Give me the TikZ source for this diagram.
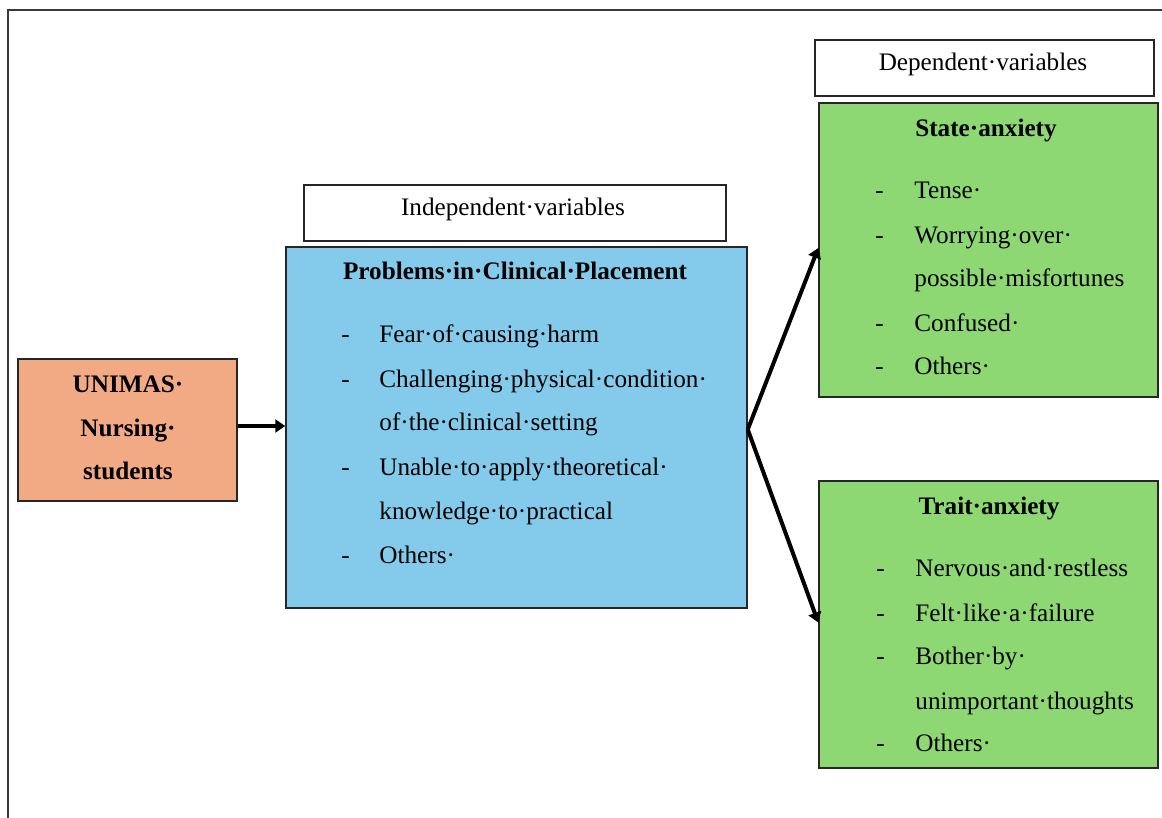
\documentclass[tikz,border=0pt]{standalone}
\usepackage{fontspec}
\setmainfont{Liberation Serif}
\usetikzlibrary{arrows.meta}
\definecolor{orangefill}{HTML}{F2AA84}
\definecolor{bluefill}{HTML}{83CAEB}
\definecolor{greenfill}{HTML}{8DD873}
\definecolor{framegray}{HTML}{3A3A3A}
\tikzset{
  box/.style={draw=black!85, line width=0.75pt, rectangle, inner sep=0pt},
  txt/.style={inner sep=0pt, anchor=base west, font=\fontsize{12.6}{22}\selectfont},
  ctxt/.style={inner sep=0pt, anchor=base, font=\fontsize{12.6}{22}\selectfont},
  btxt/.style={ctxt, font=\fontsize{12.6}{22}\selectfont\bfseries},
  arr/.style={line width=2pt, -{Triangle[length=5pt,width=6.5pt]}},
  framestyle/.style={draw=framegray, line width=1pt}
}
\begin{document}
\begin{tikzpicture}[x=0.5pt,y=-0.5pt]
\useasboundingbox (0,0) rectangle (1162,818);
\draw[framestyle] (8,818) -- (8,10) -- (1162,10);

% boxes
\node[box, minimum width=169.5pt, minimum height=28pt] (dep) at (984.5,68) {};
\node[box, fill=greenfill, minimum width=169.5pt, minimum height=147pt] (state) at (988.5,250) {};
\node[box, minimum width=211pt, minimum height=28pt] (indep) at (515,213) {};
\node[box, fill=bluefill, minimum width=230.5pt, minimum height=180.5pt] (prob) at (516.5,427.5) {};
\node[box, fill=orangefill, minimum width=109.5pt, minimum height=71pt] (unimas) at (127.5,430) {};
\node[box, fill=greenfill, minimum width=169.5pt, minimum height=143.5pt] (trait) at (988.5,624.5) {};

% headers
\node[ctxt] (deplbl) at (983,71) {Dependent·variables};
\node[ctxt] (indeplbl) at (513,216) {Independent·variables};

% unimas
\node[btxt] (u1) at (128,393) {UNIMAS·};
\node[btxt] (u2) at (128,436) {Nursing·};
\node[btxt] (u3) at (128,479) {students};

% problems
\node[btxt] (ptitle) at (515,280) {Problems·in·Clinical·Placement};
\node[txt] (pd1) at (341,343) {-};
\node[txt] (p1) at (379,343) {Fear·of·causing·harm};
\node[txt] (pd2) at (341,387) {-};
\node[txt] (p2) at (379,387) {Challenging·physical·condition·};
\node[txt] (p2b) at (379,430) {of·the·clinical·setting};
\node[txt] (pd3) at (341,475) {-};
\node[txt] (p3) at (379,475) {Unable·to·apply·theoretical·};
\node[txt] (p3b) at (379,519) {knowledge·to·practical};
\node[txt] (pd4) at (341,563) {-};
\node[txt] (p4) at (379,563) {Others·};

% state anxiety
\node[btxt] (stitle) at (986,137) {State·anxiety};
\node[txt] (sd1) at (875,199) {-};
\node[txt] (s1) at (914,199) {Tense·};
\node[txt] (sd2) at (875,244) {-};
\node[txt] (s2) at (914,244) {Worrying·over·};
\node[txt] (s2b) at (914,287) {possible·misfortunes};
\node[txt] (sd3) at (875,331) {-};
\node[txt] (s3) at (914,331) {Confused·};
\node[txt] (sd4) at (875,374) {-};
\node[txt] (s4) at (914,374) {Others·};

% trait anxiety
\node[btxt] (ttitle) at (989,514) {Trait·anxiety};
\node[txt] (td1) at (876,576) {-};
\node[txt] (t1) at (915,576) {Nervous·and·restless};
\node[txt] (td2) at (876,621) {-};
\node[txt] (t2) at (915,621) {Felt·like·a·failure};
\node[txt] (td3) at (876,664) {-};
\node[txt] (t3) at (915,664) {Bother·by·};
\node[txt] (t3b) at (915,709) {unimportant·thoughts};
\node[txt] (td4) at (876,751) {-};
\node[txt] (t4) at (915,751) {Others·};

% arrows
\draw[arr] ([yshift=2pt]unimas.east) -- ([yshift=2pt]unimas.east -| prob.west);
\draw[arr] ([yshift=-1pt]prob.east) -- ([yshift=1pt]state.west);
\draw[arr] ([yshift=-1pt]prob.east) -- ([yshift=1pt]trait.west);
\end{tikzpicture}
\end{document}
